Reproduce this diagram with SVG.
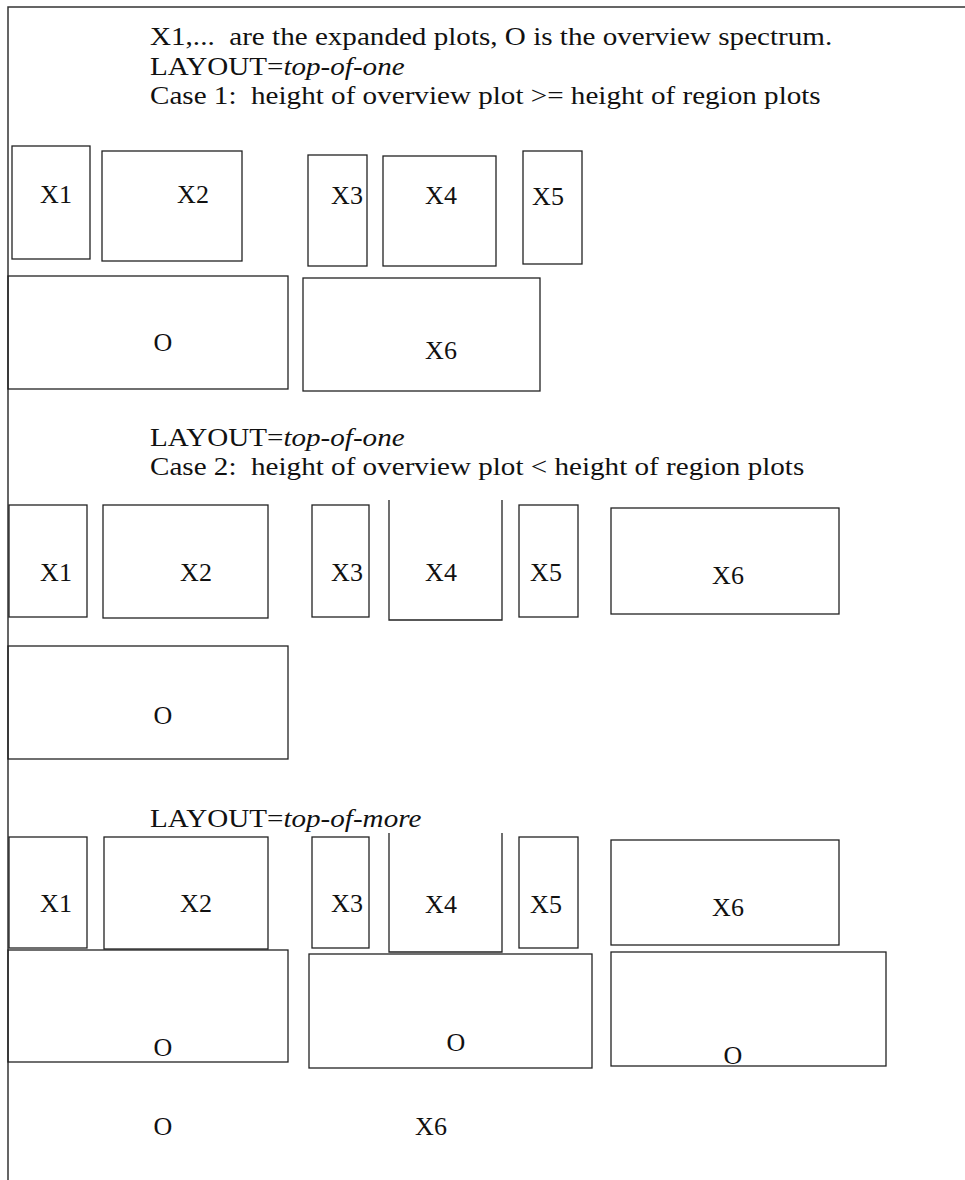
<svg xmlns="http://www.w3.org/2000/svg" width="965" height="1180" viewBox="0 0 965 1180">
  <style>
    .frame { fill: none; stroke: #333; stroke-width: 1.5; }
    .plot rect { fill: none; stroke: #222; stroke-width: 1.3; }
    .plot path { fill: none; stroke: #222; stroke-width: 1.3; }
    .head { font-family: "Liberation Serif", "Times New Roman", serif; font-size: 26px; fill: #111; }
    .lbl { font-family: "Liberation Serif", "Times New Roman", serif; font-size: 26px; fill: #111; text-anchor: middle; }
    .it { font-style: italic; }
  </style>

  <!-- page frame: top and left rules -->
  <g id="frame">
    <path class="frame" d="M8 1180 V7 H965"/>
  </g>

  <!-- headings, widened slightly to the page's wide serif setting -->
  <g id="headings">
    <text class="head" transform="translate(150 45) scale(1.12 1)" xml:space="preserve">X1,...  are the expanded plots, O is the overview spectrum.</text>
    <text class="head" transform="translate(150 75) scale(1.12 1)" xml:space="preserve">LAYOUT=<tspan class="it">top-of-one</tspan></text>
    <text class="head" transform="translate(150 104) scale(1.12 1)" xml:space="preserve">Case 1:  height of overview plot &gt;= height of region plots</text>
    <text class="head" transform="translate(150 446) scale(1.12 1)" xml:space="preserve">LAYOUT=<tspan class="it">top-of-one</tspan></text>
    <text class="head" transform="translate(150 475) scale(1.12 1)" xml:space="preserve">Case 2:  height of overview plot &lt; height of region plots</text>
    <text class="head" transform="translate(150 827) scale(1.12 1)" xml:space="preserve">LAYOUT=<tspan class="it">top-of-more</tspan></text>
  </g>

  <!-- Case 1 -->
  <g id="c1-x1" class="plot"><rect x="12" y="146" width="78" height="113"/><text class="lbl" x="56" y="203">X1</text></g>
  <g id="c1-x2" class="plot"><rect x="102" y="151" width="140" height="110"/><text class="lbl" x="193" y="203">X2</text></g>
  <g id="c1-x3" class="plot"><rect x="308" y="155" width="59" height="111"/><text class="lbl" x="347" y="204">X3</text></g>
  <g id="c1-x4" class="plot"><rect x="383" y="156" width="113" height="110"/><text class="lbl" x="441" y="204">X4</text></g>
  <g id="c1-x5" class="plot"><rect x="523" y="151" width="59" height="113"/><text class="lbl" x="548" y="205">X5</text></g>
  <g id="c1-o" class="plot"><rect x="8" y="276" width="280" height="113"/><text class="lbl" x="163" y="351">O</text></g>
  <g id="c1-x6" class="plot"><rect x="303" y="278" width="237" height="113"/><text class="lbl" x="441" y="359">X6</text></g>

  <!-- Case 2 -->
  <g id="c2-x1" class="plot"><rect x="9" y="505" width="78" height="112"/><text class="lbl" x="56" y="581">X1</text></g>
  <g id="c2-x2" class="plot"><rect x="103" y="505" width="165" height="113"/><text class="lbl" x="196" y="581">X2</text></g>
  <g id="c2-x3" class="plot"><rect x="312" y="505" width="57" height="112"/><text class="lbl" x="347" y="581">X3</text></g>
  <g id="c2-x4" class="plot"><path d="M389 500 V620 H502 V500"/><text class="lbl" x="441" y="581">X4</text></g>
  <g id="c2-x5" class="plot"><rect x="519" y="505" width="59" height="112"/><text class="lbl" x="546" y="581">X5</text></g>
  <g id="c2-x6" class="plot"><rect x="611" y="508" width="228" height="106"/><text class="lbl" x="728" y="584">X6</text></g>
  <g id="c2-o" class="plot"><rect x="8" y="646" width="280" height="113"/><text class="lbl" x="163" y="724">O</text></g>

  <!-- top-of-more -->
  <g id="c3-x1" class="plot"><rect x="9" y="837" width="78" height="111"/><text class="lbl" x="56" y="912">X1</text></g>
  <g id="c3-x2" class="plot"><rect x="104" y="837" width="164" height="112"/><text class="lbl" x="196" y="912">X2</text></g>
  <g id="c3-x3" class="plot"><rect x="312" y="837" width="57" height="111"/><text class="lbl" x="347" y="912">X3</text></g>
  <g id="c3-x4" class="plot"><path d="M389 833 V952 H502 V833"/><text class="lbl" x="441" y="913">X4</text></g>
  <g id="c3-x5" class="plot"><rect x="519" y="837" width="59" height="111"/><text class="lbl" x="546" y="913">X5</text></g>
  <g id="c3-x6" class="plot"><rect x="611" y="840" width="228" height="105"/><text class="lbl" x="728" y="916">X6</text></g>
  <g id="c3-o1" class="plot"><rect x="8" y="950" width="280" height="112"/><text class="lbl" x="163" y="1056">O</text></g>
  <g id="c3-o2" class="plot"><rect x="309" y="954" width="283" height="114"/><text class="lbl" x="456" y="1051">O</text></g>
  <g id="c3-o3" class="plot"><rect x="611" y="952" width="275" height="114"/><text class="lbl" x="733" y="1064">O</text></g>
  <g id="c3-captions">
    <text class="lbl" x="163" y="1135">O</text>
    <text class="lbl" x="431" y="1135">X6</text>
  </g>
</svg>
